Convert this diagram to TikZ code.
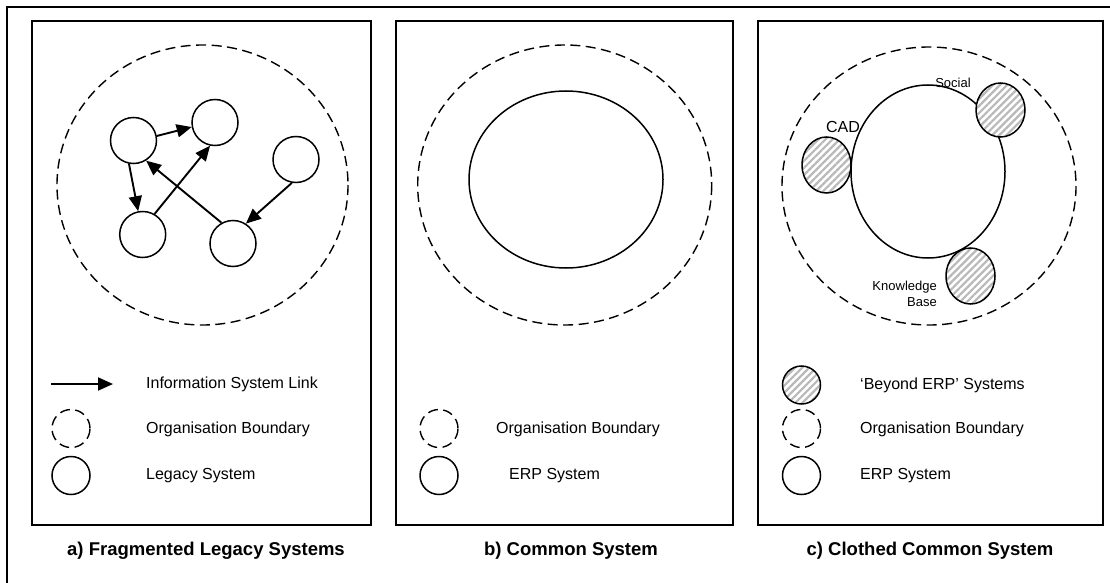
\documentclass[tikz,border=0pt]{standalone}
\usepackage{fontspec}
\setmainfont{Liberation Sans}
\usetikzlibrary{arrows.meta, patterns.meta}

\tikzset{
  panel/.style={draw, line width=1.5pt},
  legacy/.style={draw, circle, line width=1.5pt, minimum size=46pt, inner sep=0pt},
  keyring/.style={draw, circle, line width=1.5pt, minimum size=38pt, inner sep=0pt},
  boundary/.style={draw, line width=1.4pt, dash pattern=on 10pt off 5.5pt},
  link/.style={line width=1.9pt, -{Triangle[length=15pt,width=13pt]}},
  beyond/.style={draw, line width=1.5pt, preaction={fill=white},
    pattern={Lines[angle=45,distance=5pt,line width=2.2pt]}, pattern color=gray!55},
  keytext/.style={anchor=west, inner sep=0pt, font=\fontsize{16}{19}\selectfont},
  caption/.style={anchor=base, inner sep=0pt, font=\fontsize{18.5}{22}\selectfont\bfseries}
}

\begin{document}
\begin{tikzpicture}[x=1pt, y=-1pt]
	\useasboundingbox (0,0) rectangle (1110,583);
	\clip (0,0) rectangle (1110,583);
	\draw[line width=2pt] (7,7) rectangle (1130,600);
	
	\draw[panel] (32,21) rectangle (371,525);
	\draw[panel] (396,21) rectangle (733,525);
	\draw[panel] (758,21) rectangle (1103,525);
	
	% a) fragmented legacy systems
	\draw[boundary] (202.5,185) ellipse (145.5 and 140);
	\node[legacy] (sysA) at (133.5,140.5) {};
	\node[legacy] (sysB) at (215,122.5) {};
	\node[legacy] (sysC) at (296,159.5) {};
	\node[legacy] (sysD) at (142.7,234.5) {};
	\node[legacy] (sysE) at (233,243.5) {};
	\draw[link] (sysA.11) -- (sysB.191);
	\draw[link] (sysA.-101) -- (sysD.101);
	\draw[link] (sysD.60) -- (sysB.-102);
	\draw[link] (sysE.119) -- (sysA.-58);
	\draw[link] (sysC.-100) -- (sysE.57);
	
	\coordinate (tailA) at (51,384);
	\coordinate (headA) at (113,384);
	\draw[link] (tailA) -- (headA);
	\node[keytext] (txtLink) at (146,384) {Information System Link};
	\node[keyring, boundary] (keyOrgA) at (71,428.5) {};
	\node[keytext] (txtOrgA) at (146,429) {Organisation Boundary};
	\node[keyring] (keyLegacy) at (71,475.5) {};
	\node[keytext] (txtLegacy) at (146,476) {Legacy System};
	\node[caption] (capA) at (206,555) {a) Fragmented Legacy Systems};
	
	% b) common system
	\draw[boundary] (564.7,185) ellipse (147 and 140);
	\draw[line width=1.5pt] (566,179.5) ellipse (97 and 88.5);
	\node[keyring, boundary] (keyOrgB) at (439,428.5) {};
	\node[keytext] (txtOrgB) at (496,429) {Organisation Boundary};
	\node[keyring] (keyErpB) at (439,475.5) {};
	\node[keytext] (txtErpB) at (509,476) {ERP System};
	\node[caption] (capB) at (571,555) {b) Common System};
	
	% c) clothed common system
	\draw[boundary] (929,186) ellipse (147 and 139);
	\draw[line width=1.5pt] (928,171.5) ellipse (77 and 86.5);
	\draw[beyond] (826.5,165) ellipse (24.5 and 28);
	\draw[beyond] (1000.5,110) ellipse (24.5 and 27);
	\draw[beyond] (970.5,276) ellipse (24.5 and 28);
	\node[inner sep=0pt, font=\fontsize{16}{19}\selectfont] (lblCad) at (843,127) {CAD};
	\node[inner sep=0pt, font=\fontsize{13}{15}\selectfont] (lblSocial) at (953,83) {Social};
	\node[inner sep=0pt, anchor=east, align=right, font=\fontsize{13}{15.3}\selectfont] (lblKnow) at (937,294) {Knowledge\\Base};
	
	\node[keyring, beyond] (keyBeyond) at (801.5,385) {};
	\node[keytext] (txtBeyond) at (860,385) {‘Beyond ERP’ Systems};
	\node[keyring, boundary] (keyOrgC) at (801.5,428.5) {};
	\node[keytext] (txtOrgC) at (860,429) {Organisation Boundary};
	\node[keyring] (keyErpC) at (801.5,475.5) {};
	\node[keytext] (txtErpC) at (860,476) {ERP System};
	\node[caption] (capC) at (930,555) {c) Clothed Common System};
\end{tikzpicture}
\end{document}
